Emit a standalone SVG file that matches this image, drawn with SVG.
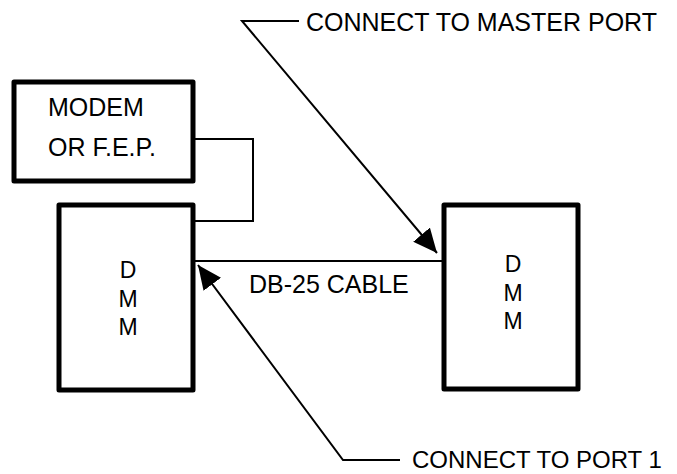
<svg xmlns="http://www.w3.org/2000/svg" width="677" height="474" viewBox="0 0 677 474">
<style>
.box{fill:#fff;stroke:#000;stroke-width:5;stroke-linejoin:round}
.ln{fill:none;stroke:#000;stroke-width:2}
text{font-family:"Liberation Sans",Arial,sans-serif;font-size:25px;fill:#000}
.mid{text-anchor:middle;font-size:23px}
.sm{font-size:24px}
</style>
<defs>
<marker id="ah" markerUnits="userSpaceOnUse" markerWidth="24" markerHeight="22" refX="22" refY="10" orient="auto" viewBox="0 0 22 20">
<path d="M0,0 L22,10 L0,20 z" fill="#000"/>
</marker>
</defs>
<rect width="677" height="474" fill="#fff"/>
<g id="connectors">
<polyline class="ln" points="193,139 253,139 253,221 193,221"/>
<line class="ln" x1="193" y1="261" x2="444" y2="261"/>
<polyline class="ln" points="299,21 242,21 437,253" marker-end="url(#ah)"/>
<polyline class="ln" points="400,460 343,460 198,265" marker-end="url(#ah)"/>
</g>
<g id="modem">
<rect class="box" x="14" y="82" width="179" height="99"/>
<text x="48" y="116">MODEM</text>
<text x="48" y="156">OR F.E.P.</text>
</g>
<g id="dmm-left">
<rect class="box" x="59" y="205" width="134" height="185"/>
<text class="mid" x="128" y="278">D</text>
<text class="mid" x="128" y="307">M</text>
<text class="mid" x="128" y="335">M</text>
</g>
<g id="dmm-right">
<rect class="box" x="444" y="205" width="134" height="184"/>
<text class="mid" x="513" y="272">D</text>
<text class="mid" x="513" y="301">M</text>
<text class="mid" x="513" y="329">M</text>
</g>
<g id="labels">
<text x="306" y="31">CONNECT TO MASTER PORT</text>
<text x="249" y="293">DB-25 CABLE</text>
<text class="sm" x="412" y="468">CONNECT TO PORT 1</text>
</g>
</svg>
